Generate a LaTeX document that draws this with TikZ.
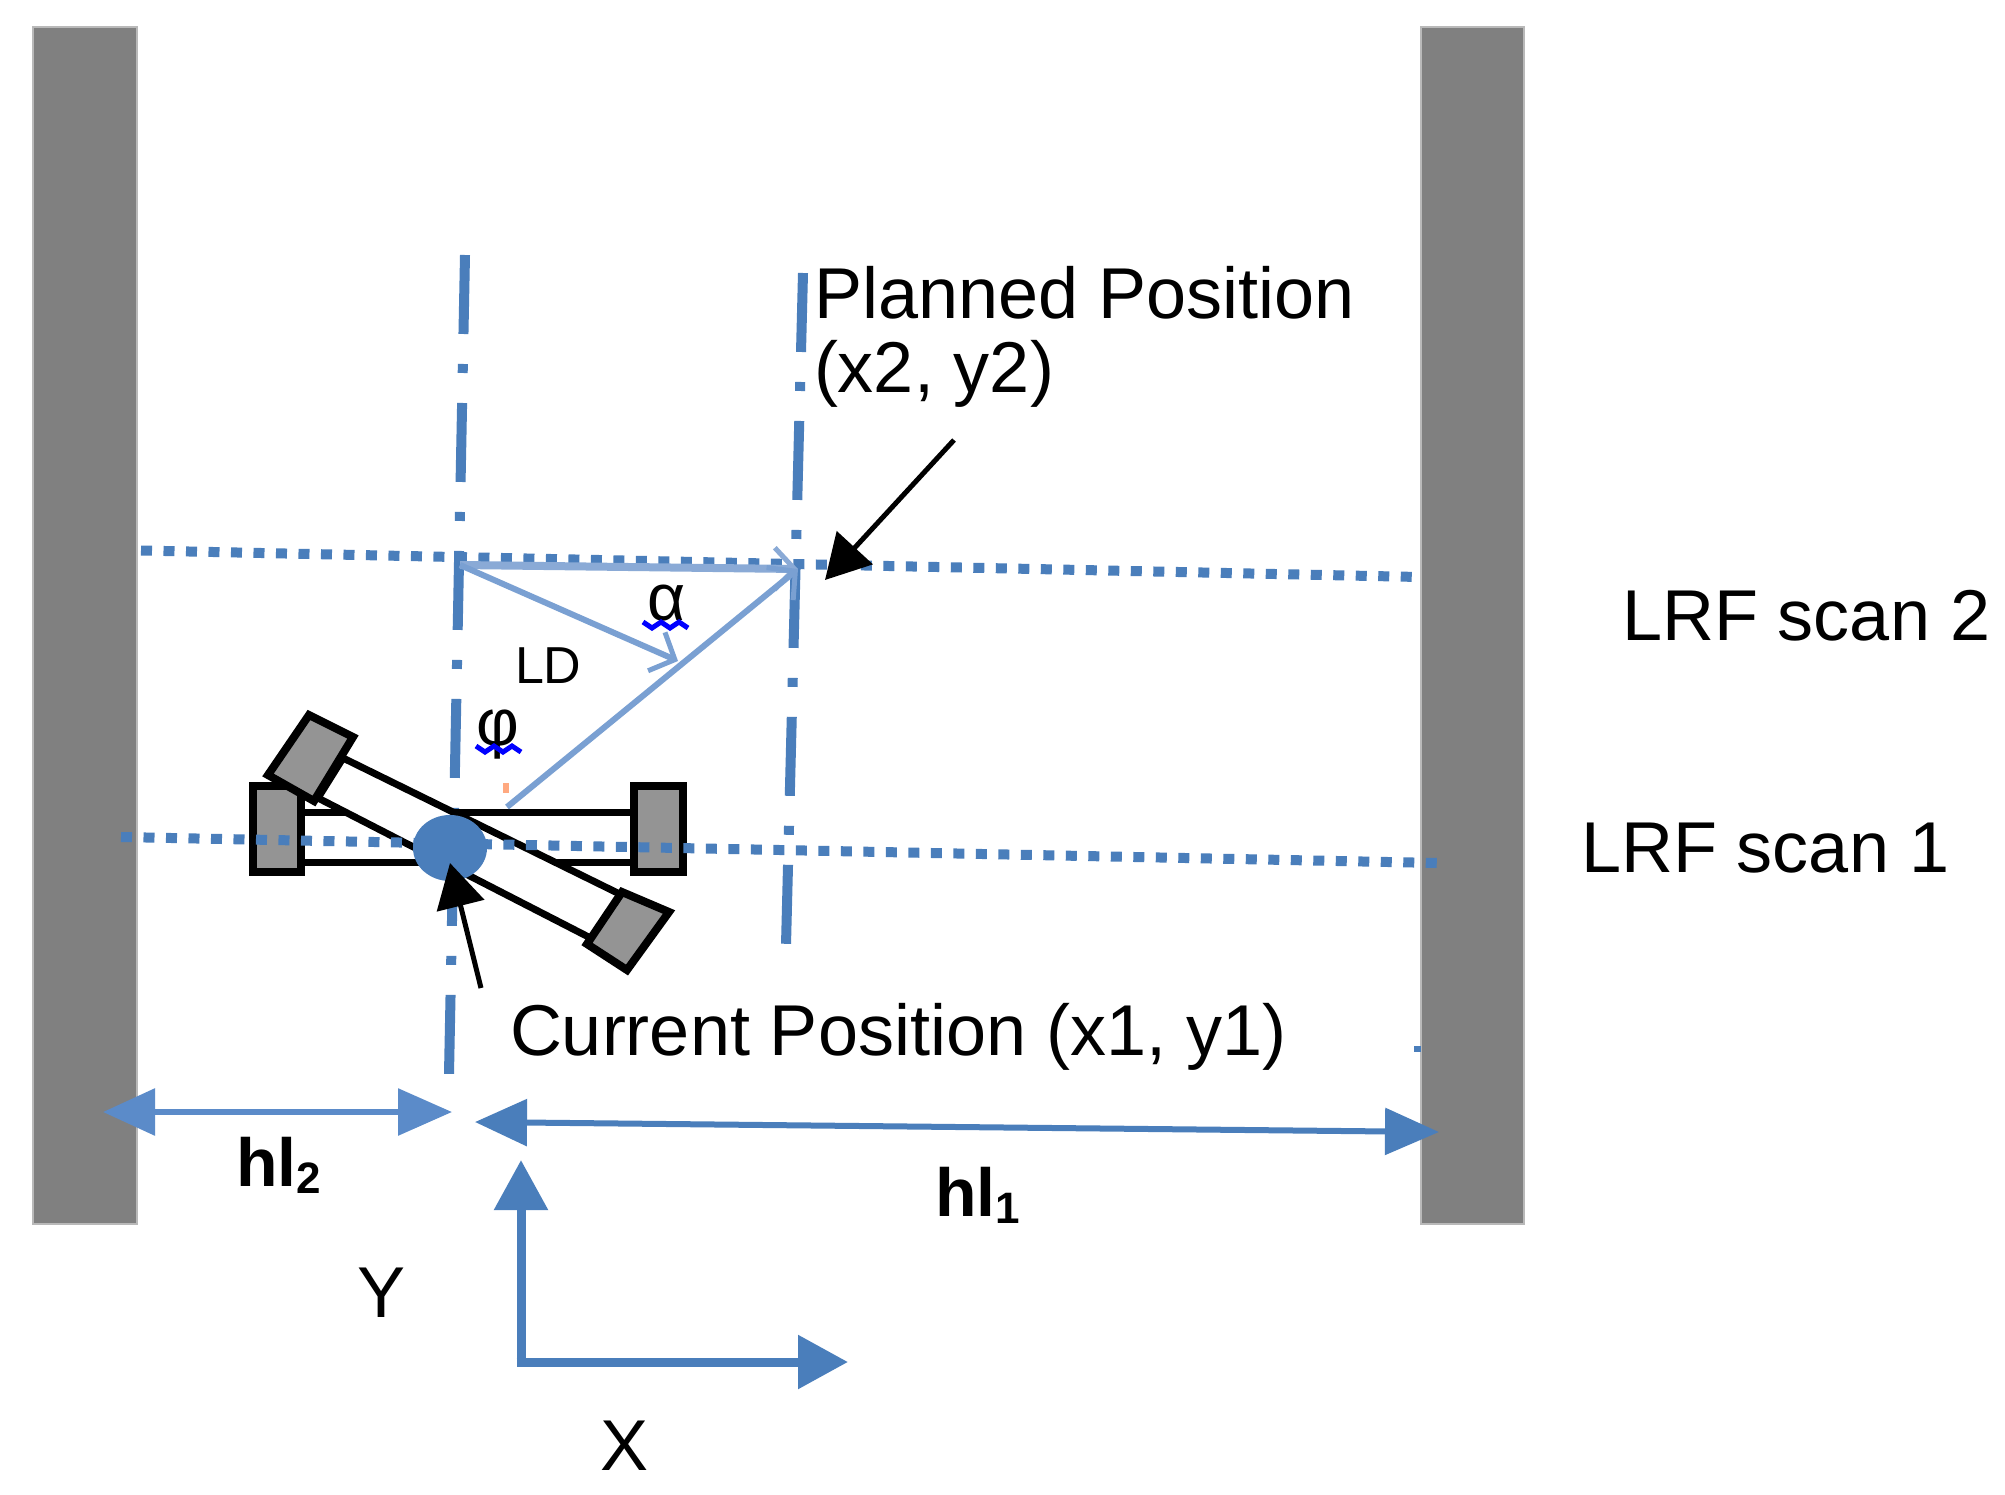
\documentclass[tikz,border=0pt]{standalone}
\usepackage{fontspec}
\setmainfont{Liberation Sans}
\usetikzlibrary{arrows.meta}
\definecolor{mblue}{HTML}{4A7EBB}
\definecolor{lblue}{HTML}{8AAAD6}
\definecolor{mlblue}{HTML}{7AA0D2}
\definecolor{dimblue}{HTML}{5B8BC9}
\definecolor{wallgray}{HTML}{808080}
\definecolor{wheelgray}{HTML}{949494}
\tikzset{
  wall/.style={fill=wallgray,draw=wallgray!55,line width=2.5pt},
  scanline/.style={draw=mblue,line width=10pt,dash pattern=on 11pt off 11.5pt},
  axisline/.style={draw=mblue,line width=10pt,dash pattern=on 79pt off 30pt on 9pt off 30pt},
  wheel/.style={fill=wheelgray,draw=black,line width=8pt,line join=miter},
  bar/.style={fill=white,draw=black,line width=7pt},
  lab/.style={inner sep=0pt,outer sep=0pt,anchor=base west,font=\fontsize{72}{80}\selectfont},
  dimarrow/.style={draw=dimblue,line width=6pt,{Triangle[length=52pt,width=46pt]}-{Triangle[length=54pt,width=46pt]}},
  axisarrow/.style={draw=mblue,line width=9pt,-{Triangle[length=50pt,width=52pt]}},
  vecarrow/.style={draw=mlblue,line width=6pt,-{Straight Barb[length=20pt,width=42pt,line width=5pt]}},
  pointer/.style={draw=black,line width=5pt,-{Triangle[length=44pt,width=48pt]}},
  squiggle/.style={draw=blue,line width=5pt},
}
\begin{document}
\begin{tikzpicture}[x=1pt,y=-1pt]
\useasboundingbox (0,0) rectangle (2005,1494);
\fill[white] (0,0) rectangle (2005,1494);
% walls
\path[wall] (33,27) rectangle (137,1224);
\path[wall] (1421,27) rectangle (1524,1224);
% named points
\coordinate (v1top) at (465,255);
\coordinate (v1bot) at (449,1074);
\coordinate (v2top) at (803,273);
\coordinate (v2bot) at (786,945);
\coordinate (s2l) at (141,550.5);
\coordinate (s2r) at (1420,577);
\coordinate (s1l) at (121,837);
\coordinate (s1r) at (1439,863);
\coordinate (junction) at (460,565);
\coordinate (goal) at (798,569);
\coordinate (ldend) at (678,661);
\coordinate (carfront) at (507,807);
\coordinate (center) at (450,848);
\coordinate (ptail1) at (954,440);
\coordinate (ptip1) at (825,580);
\coordinate (ptail2) at (481,988);
\coordinate (ptip2) at (450,863);
\coordinate (h2l) at (103,1112);
\coordinate (h2r) at (452,1112);
\coordinate (h1l) at (475,1122);
\coordinate (h1r) at (1439,1132);
\coordinate (axo) at (521,1362);
\coordinate (axy) at (521,1160);
\coordinate (axx) at (848,1362);
% axis lines
\draw[axisline] (v1top) -- (v1bot);
\draw[axisline] (v2top) -- (v2bot);
% car: straight body
\path[bar] (290,812) rectangle (640,862);
\path[wheel] (253,786) rectangle (301,872);
\path[wheel] (634,786) rectangle (683,872);
% car: rotated body
\path[bar] (343,758) -- (640,904) -- (610,948) -- (318,798) -- cycle;
\path[wheel] (309,715) -- (353,737) -- (314,801) -- (268,775) -- cycle;
\path[wheel] (622,892) -- (669,912) -- (627,970) -- (587,944) -- cycle;
% scan lines
\draw[scanline] (s2l) -- (s2r);
\draw[scanline] (s1l) -- (s1r);
% vectors
\draw[vecarrow,draw=lblue,line width=8pt] (junction) -- (goal);
\draw[vecarrow] (junction) -- (ldend);
\draw[vecarrow] (carfront) -- (goal);
% robot centre
\fill[mblue] (center) ellipse [x radius=37pt,y radius=33pt];
% pointers
\draw[pointer] (ptail1) -- (ptip1);
\draw[pointer] (ptail2) -- (ptip2);
% dimension arrows
\draw[dimarrow] (h2l) -- (h2r);
\draw[dimarrow,draw=mblue] (h1l) -- (h1r);
\draw[axisarrow] (axo) -- (axy);
\draw[axisarrow] ([xshift=-4.5pt]axo) -- (axx);
% specks
\fill[mblue] (1414,1046) rectangle (1421,1052);
\fill[red!35!orange!50] (503,783) rectangle (509,793);
% labels
\node[lab] (planned) at (814,318) {Planned Position};
\node[lab] (plannedxy) at (814,392) {(x2, y2)};
\node[lab] (current) at (510,1055) {Current Position (x1, y1)};
\node[lab] (scan2) at (1622,640) {LRF scan 2};
\node[lab] (scan1) at (1581,872) {LRF scan 1};
\node[lab] (ylab) at (357,1317) {Y};
\node[lab] (xlab) at (600,1470) {X};
\node[lab,font=\fontsize{52}{60}\selectfont] (ld) at (515,683) {LD};
\node[lab,font=\fontsize{66}{70}\selectfont] (alpha) at (647,620) {α};
\node[lab,font=\fontsize{66}{70}\selectfont] (phi) at (476,745) {φ};
\node[lab,font=\fontsize{68}{72}\selectfont\bfseries] (hl2) at (236,1186) {hl\raisebox{-7pt}{\fontsize{44}{48}\selectfont 2}};
\node[lab,font=\fontsize{68}{72}\selectfont\bfseries] (hl1) at (935,1216) {hl\raisebox{-7pt}{\fontsize{44}{48}\selectfont 1}};
% spelling squiggles
\draw[squiggle] (643,622) -- (652,628) -- (661,622) -- (670,628) -- (679,622) -- (688,628);
\draw[squiggle] (476,746) -- (485,752) -- (494,746) -- (503,752) -- (512,746) -- (521,752);
\end{tikzpicture}
\end{document}
